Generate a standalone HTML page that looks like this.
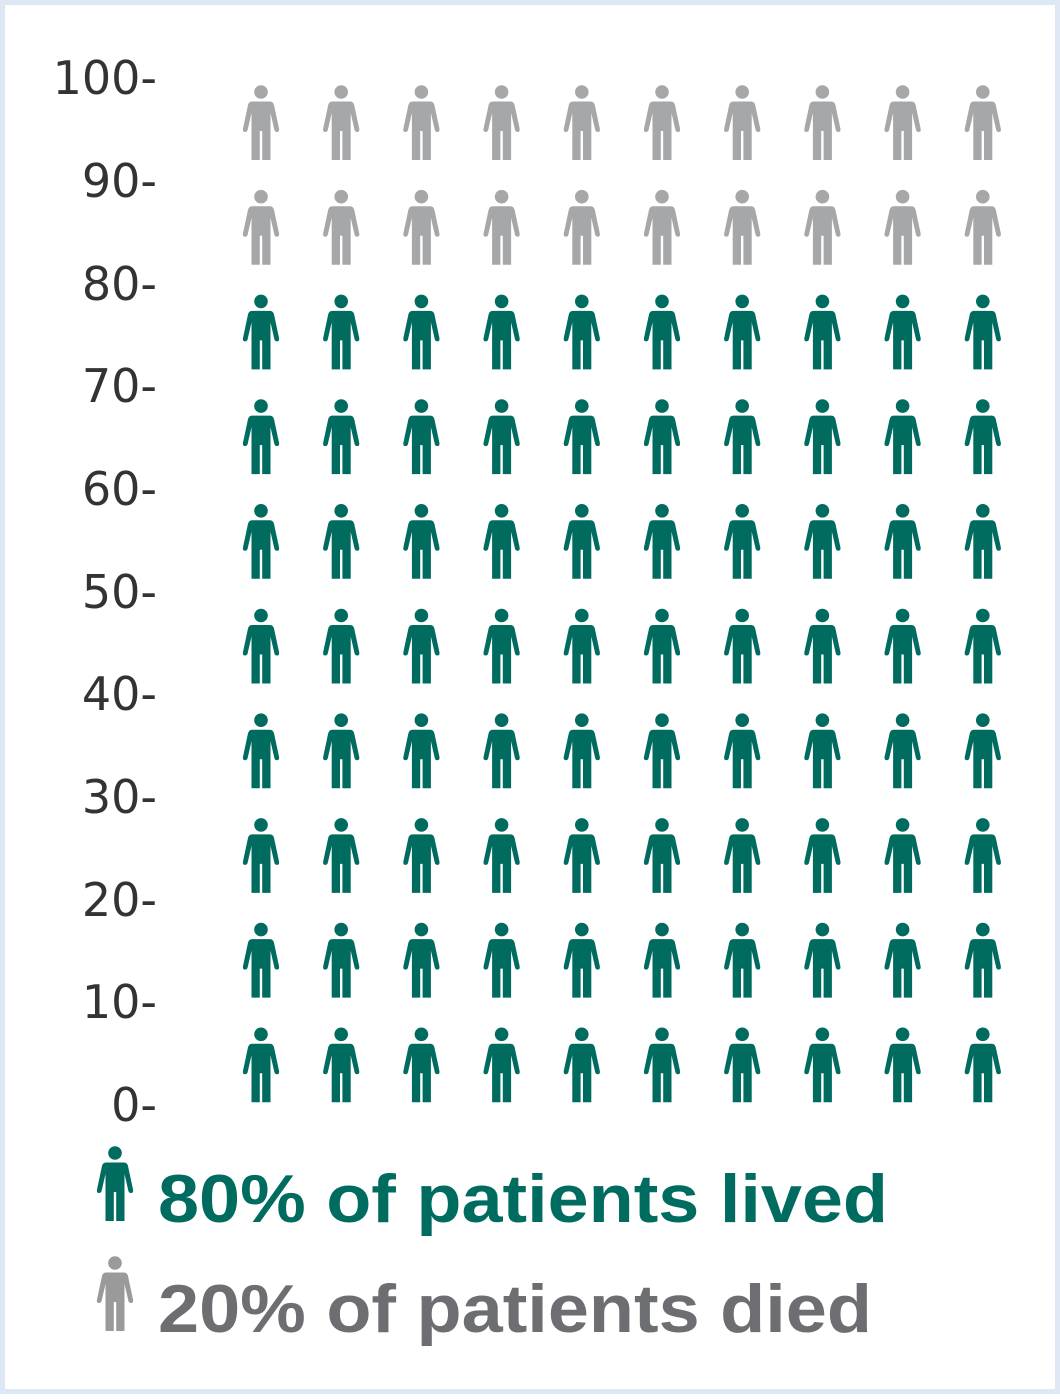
<!DOCTYPE html>
<html><head><style>
html,body{margin:0;padding:0;background:#fff;}
body{width:1060px;height:1394px;overflow:hidden;}
</style></head><body>
<svg width="1060" height="1394" viewBox="0 0 1060 1394" xmlns="http://www.w3.org/2000/svg">
<defs>
<g id="p">
<circle cx="18" cy="7" r="6.8"/>
<path d="M9 16.5 H27 Q30 16.5 31 20 L36 43.5 Q36.6 47 34 47 Q32 47 31.4 45 L27.5 28 V75 H19.2 V46 H16.8 V75 H8.5 V28 L4.6 45 Q4 47 2 47 Q-0.6 47 0 43.5 L5 20 Q6 16.5 9 16.5 Z"/>
</g>
</defs>
<rect x="2.5" y="2.5" width="1055" height="1389" fill="#fff" stroke="#dde8f4" stroke-width="5"/>
<g font-family="DejaVu Sans, Liberation Sans, sans-serif" font-size="46" fill="#333" text-anchor="end">
<text x="157" y="94">100-</text>
<text x="157" y="197">90-</text>
<text x="157" y="300">80-</text>
<text x="157" y="402">70-</text>
<text x="157" y="505">60-</text>
<text x="157" y="608">50-</text>
<text x="157" y="710">40-</text>
<text x="157" y="813">30-</text>
<text x="157" y="916">20-</text>
<text x="157" y="1018">10-</text>
<text x="157" y="1121">0-</text>
</g>
<g id="grid"></g>
<g fill="#006b5f"><use href="#p" x="97" y="1146"/></g>
<g fill="#9a9a9a"><use href="#p" x="97" y="1256"/></g>
<g font-family="Liberation Sans, DejaVu Sans, sans-serif" font-weight="bold" font-size="68">
<text x="158" y="1222" fill="#006b5f" textLength="730" lengthAdjust="spacingAndGlyphs">80% of patients lived</text>
<text x="158" y="1332" fill="#6d6e71" textLength="714" lengthAdjust="spacingAndGlyphs">20% of patients died</text>
</g>
<script>
var g=document.getElementById('grid'),ns='http://www.w3.org/2000/svg';
for(var r=0;r<10;r++)for(var c=0;c<10;c++){
var u=document.createElementNS(ns,'use');
u.setAttribute('href','#p');
u.setAttribute('x',(243+c*80.2).toFixed(1));
u.setAttribute('y',(85+r*104.7).toFixed(1));
u.setAttribute('fill',r<2?'#a6a7a9':'#006b5f');
g.appendChild(u);}
</script>
</svg>
</body></html>
